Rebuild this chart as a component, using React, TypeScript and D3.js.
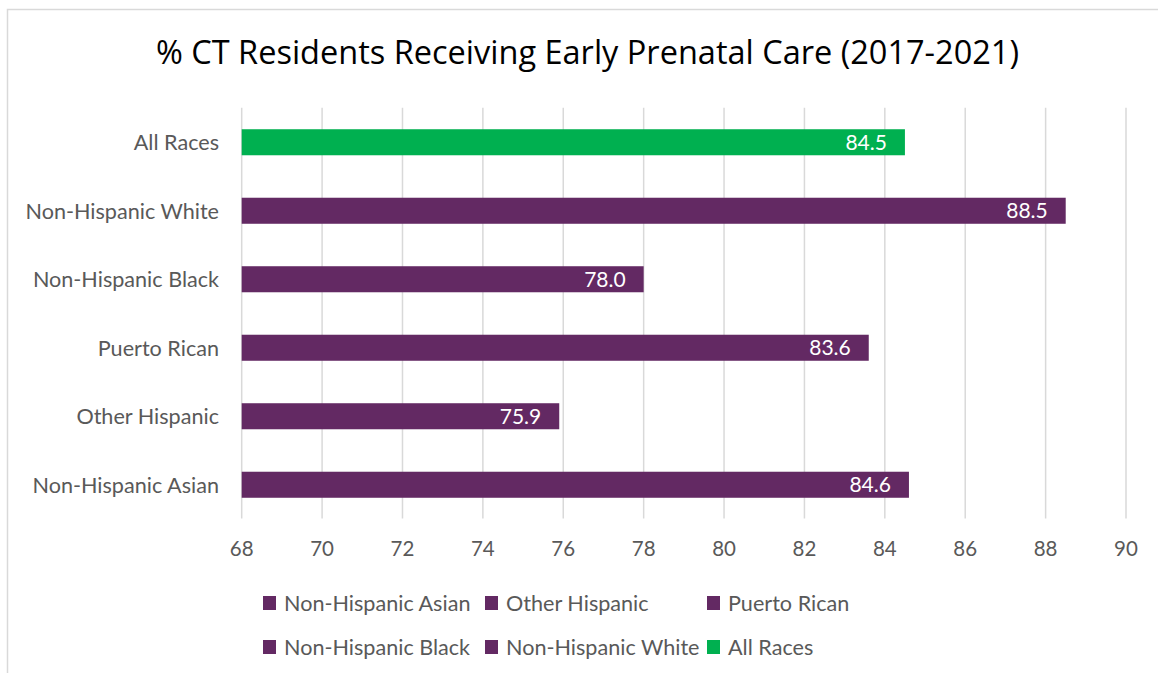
import React from "react";
import * as d3 from "d3";

const categories = [
  "All Races",
  "Non-Hispanic White",
  "Non-Hispanic Black",
  "Puerto Rican",
  "Other Hispanic",
  "Non-Hispanic Asian",
];
const values = [84.5, 88.5, 78.0, 83.6, 75.9, 84.6];
const barColors = ["#00b050", "#632963", "#632963", "#632963", "#632963", "#632963"];
const xTicks = [68, 70, 72, 74, 76, 78, 80, 82, 84, 86, 88, 90];
const legendRow1 = ["Non-Hispanic Asian", "Other Hispanic", "Puerto Rican"];
const legendRow2 = ["Non-Hispanic Black", "Non-Hispanic White", "All Races"];
const legendColors1 = ["#632963", "#632963", "#632963"];
const legendColors2 = ["#632963", "#632963", "#00b050"];
const title = "% CT Residents Receiving Early Prenatal Care (2017-2021)";

const W = 1158;
const H = 673;
const FONT = "Lato, 'Open Sans', sans-serif";

export default function App() {
  const x = d3.scaleLinear().domain([68, 90]).range([241.7, 1126]);
  const y = d3
    .scaleBand<string>()
    .domain(categories)
    .range([108, 519])
    .paddingInner(0.62)
    .paddingOuter(0.31);
  const legendX = [263, 485, 707];
  const legendY = [603, 647];

  return (
    <svg
      width={W}
      height={H}
      style={{ position: "absolute", left: 0, top: 0, background: "#fff" }}
      fontFamily={FONT}
    >
      <rect x={0} y={0} width={W} height={H} fill="#fff" />
      <rect x={7.5} y={9.5} width={1300} height={800} fill="#fff" stroke="#d9d9d9" strokeWidth={1.5} />
      <text
        x={587.5}
        y={64}
        textAnchor="middle"
        fontSize={32.5}
        fill="#000"
        fontFamily="'Open Sans', sans-serif"
      >
        {title}
      </text>
      {xTicks.map((t) => (
        <g key={t}>
          <line x1={x(t)} x2={x(t)} y1={107.7} y2={518.5} stroke="#d9d9d9" strokeWidth={1.5} />
          <text x={x(t)} y={556} textAnchor="middle" fontSize={20.5} fill="#595959">
            {t}
          </text>
        </g>
      ))}
      {categories.map((c, i) => {
        const yy = y(c)!;
        const bw = y.bandwidth();
        return (
          <g key={c}>
            <rect x={x(68)} y={yy} width={x(values[i]) - x(68)} height={bw} fill={barColors[i]} />
            <text
              x={219}
              y={yy + bw / 2}
              dy="0.36em"
              textAnchor="end"
              fontSize={21.6}
              fill="#595959"
            >
              {c}
            </text>
            <text
              x={x(values[i]) - 18}
              y={yy + bw / 2}
              dy="0.36em"
              textAnchor="end"
              fontSize={21}
              fill="#fff"
            >
              {values[i].toFixed(1)}
            </text>
          </g>
        );
      })}
      {[legendRow1, legendRow2].map((row, r) =>
        row.map((name, j) => (
          <g key={name}>
            <rect
              x={legendX[j]}
              y={legendY[r] - 7}
              width={13}
              height={14}
              fill={(r === 0 ? legendColors1 : legendColors2)[j]}
            />
            <text
              x={legendX[j] + 21}
              y={legendY[r]}
              dy="0.36em"
              fontSize={21.6}
              fill="#595959"
            >
              {name}
            </text>
          </g>
        ))
      )}
    </svg>
  );
}
